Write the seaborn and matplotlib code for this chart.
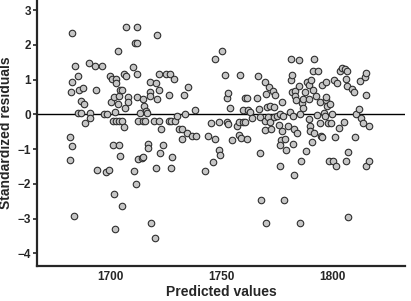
import numpy as np
import pandas as pd
import matplotlib
matplotlib.use("Agg")
import matplotlib.pyplot as plt
import seaborn as sns

sns.set_style("ticks")
plt.rcParams['font.family'] = ['Liberation Sans', 'DejaVu Sans']

# predicted values / standardized residuals
predicted = [
    1682.7, 1684.2, 1682.5, 1682.9, 1685.4, 1686.2, 1687.9, 1687.1, 1688.3, 1685.7,
    1686.9, 1688.6, 1691.2, 1690.9, 1690.4, 1693.4, 1693.7, 1696.3, 1682.2, 1682.7,
    1682.2, 1683.8, 1694.0, 1698.1, 1699.4, 1697.5, 1698.8, 1699.9, 1700.9, 1700.4,
    1701.8, 1702.6, 1702.7, 1703.7, 1702.2, 1703.5, 1701.5, 1702.7, 1703.9, 1705.3,
    1704.0, 1704.5, 1705.5, 1706.4, 1706.3, 1707.0, 1706.9, 1708.1, 1707.9, 1707.2,
    1712.0, 1711.1, 1712.2, 1710.4, 1712.0, 1712.2, 1712.6, 1701.5, 1704.2, 1704.5,
    1701.8, 1702.4, 1705.4, 1710.8, 1711.8, 1712.4, 1714.3, 1714.7, 1713.5, 1714.7,
    1715.3, 1714.7, 1715.6, 1716.2, 1716.5, 1717.1, 1717.1, 1717.9, 1717.9, 1718.1,
    1718.4, 1720.3, 1720.5, 1719.8, 1720.6, 1720.9, 1721.2, 1721.8, 1721.9, 1722.2,
    1722.5, 1722.9, 1724.0, 1725.0, 1727.0, 1726.5, 1726.4, 1727.6, 1729.1, 1728.6,
    1727.9, 1727.5, 1730.3, 1731.0, 1732.3, 1732.2, 1733.4, 1733.9, 1735.1, 1734.8,
    1736.8, 1738.5, 1738.3,
    1742.7, 1744.1, 1745.6, 1746.1, 1747.3, 1747.3, 1748.9, 1748.9, 1749.6, 1750.4,
    1751.8, 1752.4, 1753.1, 1752.6, 1752.9, 1754.0, 1755.0, 1757.0, 1758.1, 1758.5,
    1758.1, 1759.1, 1760.0, 1759.9, 1760.9, 1761.7, 1760.9, 1761.7, 1762.2, 1763.0,
    1763.9, 1766.0, 1766.3, 1767.0, 1767.2, 1767.5, 1767.8, 1769.7, 1770.0, 1770.4,
    1769.6, 1769.7, 1770.2, 1771.6, 1771.1, 1772.0, 1771.9, 1772.3, 1773.1, 1773.7,
    1773.9, 1774.2, 1775.0, 1775.8, 1776.5, 1776.5, 1776.8, 1776.5, 1777.2, 1777.7,
    1777.4, 1778.4, 1778.6, 1779.2, 1779.8, 1780.9, 1781.5, 1781.4, 1782.0, 1781.7,
    1782.2, 1782.2, 1782.6, 1783.3, 1783.0, 1782.9, 1783.8, 1784.2, 1784.8, 1785.1,
    1785.2, 1785.3, 1785.9, 1786.1, 1786.7, 1786.7, 1787.5, 1787.9, 1788.7, 1789.3,
    1789.4, 1789.4, 1789.7, 1789.7, 1790.5, 1791.1, 1790.8, 1791.2, 1791.6, 1792.4,
    1791.9, 1793.0, 1793.6, 1794.2, 1794.5, 1794.8, 1795.1, 1795.5, 1796.0, 1796.5,
    1797.0, 1797.3, 1797.3, 1797.6, 1798.2, 1798.5, 1799.0, 1799.5, 1799.6, 1800.2,
    1800.8, 1801.5, 1801.2, 1802.0, 1802.9, 1803.5, 1804.2, 1805.6, 1805.9, 1806.2,
    1806.5, 1806.5, 1806.8, 1806.8, 1805.3, 1808.7, 1809.8, 1810.1, 1810.7, 1811.7,
    1812.5, 1813.0, 1813.7, 1814.8, 1815.1, 1815.1, 1815.1, 1816.4, 1816.4,
]
residuals = [
    2.33, 1.38, 0.63, 0.92, 1.10, 0.70, 0.77, 0.37, 0.31, 0.04,
    0.04, -0.24, 0.04, -0.11, 1.47, 1.39, 0.70, 1.39, -0.65, -0.91,
    -1.32, -2.94, -1.60, -1.67, -1.60, 0.00, 0.01, 1.11, 1.01, 0.36,
    0.51, 1.02, 0.89, 1.82, 0.07, 0.30, -0.20, -0.20, -0.20, -0.20,
    0.54, 0.70, 0.70, -0.37, 1.16, 1.11, 0.17, 0.49, 0.35, 2.50,
    2.50, 2.06, 2.06, 1.36, 1.16, 0.49, -0.20, -0.88, -0.88, -1.21,
    -2.29, -3.31, -2.63, -1.62, -2.00, -1.29, -1.27, -1.22, 0.03, 0.43,
    0.24, -0.20, -0.20, 0.10, 0.03, -0.86, -0.96, 0.93, 0.64, 0.53,
    -3.12, -3.57, -1.55, -0.20, 0.89, 0.43, 2.27, 1.16, 0.69, -0.20,
    -1.10, -0.42, -0.88, 1.16, 1.16, 0.57, -0.20, -0.20, -0.20, 1.01,
    -1.24, -1.54, -0.05, -0.43, -0.43, -0.70, 0.57, 0.01, 0.78, -0.55,
    -0.62, -0.62, 0.12,
    -1.64, -0.62, -0.26, -1.37, 1.59, -0.70, -0.21, -1.03, -1.16, 1.82,
    1.13, 0.46, 0.62, -0.21, -0.29, 0.18, -0.75, -0.35, -0.21, 1.14,
    -0.60, -0.67, -0.21, 0.11, 0.47, 0.47, -0.21, -0.72, 0.12, 0.07,
    -0.10, 0.47, 1.10, 0.14, -0.09, -1.12, -2.46, 0.93, 0.58, 0.22,
    -0.18, -0.45, -3.14, 0.78, -0.09, 0.24, -0.21, -0.43, 0.66, 0.20,
    -0.09, 0.56, -0.04, -0.31, 0.00, -1.48, -0.74, -0.88, -0.48, -0.05,
    0.34, -2.46, -0.70, -1.03, -0.35, 0.08, 0.99, 1.58, 1.13, 0.63,
    -0.05, -0.85, -1.74, 0.68, 0.54, -0.42, 0.41, -0.55, 0.82, 1.55,
    0.00, -3.14, -1.34, 0.32, 0.44, 0.17, 0.63, -1.07, 0.92, 0.84,
    0.43, -0.13, -0.35, -0.47, 0.99, 0.70, -0.79, 1.25, 1.59, 0.53,
    -0.55, -0.02, 1.24, -0.24, 0.36, -0.62, 0.83, -0.66, 0.03, -0.05,
    0.41, 0.49, 0.92, 0.24, -0.26, -1.34, 0.30, -0.26, 0.00, -1.34,
    0.99, -1.48, -0.66, 0.89, -0.40, 1.25, 1.34, 1.31, 1.01, -1.34,
    0.81, 1.25, -1.08, -2.96, -0.21, 0.73, 0.63, -0.66, 0.00, 0.14,
    0.97, -0.12, -0.26, 1.06, 1.18, 0.55, -1.48, -0.34, -1.34,
]

df = pd.DataFrame({"Predicted values": predicted, "Standardized residuals": residuals})

fig = plt.figure(figsize=(4.11, 3.01), dpi=100)
ax = fig.add_axes([0.089, 0.117, 0.897, 0.883])

ax.axhline(0, color="black", lw=1.0, zorder=1)
sns.scatterplot(data=df, x="Predicted values", y="Standardized residuals", ax=ax,
                s=22, color="#c6c6c6", edgecolor="#2e2e2e", linewidth=0.8, zorder=2)

ax.set_xlim(1667, 1832.7)
ax.set_ylim(-4.36, 3.29)
ax.set_xticks([1700, 1750, 1800])
ax.set_yticks(range(-4, 4))

sns.despine(ax=ax)
for s in ["left", "bottom"]:
    ax.spines[s].set_linewidth(1.6)
ax.tick_params(axis="y", length=3, width=1.2, pad=1, labelsize=8.5)
ax.tick_params(axis="x", length=0, pad=4, labelsize=8.5)
for lab in ax.get_xticklabels() + ax.get_yticklabels():
    lab.set_fontweight("bold")
ax.set_xlabel("Predicted values", fontsize=10, fontweight="bold", labelpad=1)
ax.set_ylabel("Standardized residuals", fontsize=10, fontweight="bold", labelpad=3)

fig.savefig("out.png", dpi=100)
